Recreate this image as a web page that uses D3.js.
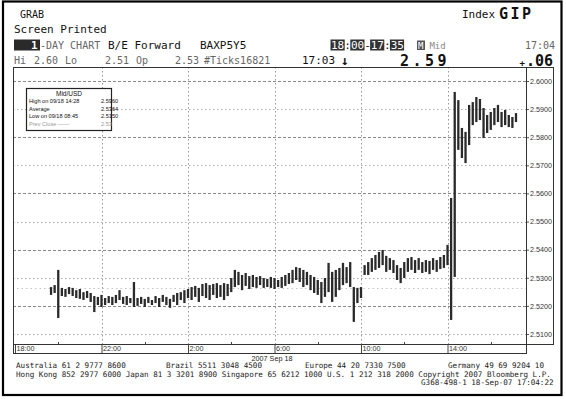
<!DOCTYPE html>
<html>
<head>
<meta charset="utf-8">
<script src="https://cdn.jsdelivr.net/npm/d3@7"></script>
<style>
  body { margin: 0; background: #fff; }
  svg { display: block; font-family: "DejaVu Sans Mono", monospace; }
</style>
</head>
<body>
<svg id="chart"></svg>
<script>
const W = 566, H = 399;

// 10-minute bars, first one at 19:40 on Sep 17
const barStart = new Date(2007, 8, 17, 19, 40);
const barMinutes = 10;

const highs = [
  2.5267, 2.5274, 2.5328, 2.5264, 2.5260, 2.5267, 2.5264, 2.5256, 2.5260, 2.5249,
  2.5253, 2.5246, 2.5235, 2.5232, 2.5239, 2.5228, 2.5235, 2.5232, 2.5239, 2.5256,
  2.5232, 2.5235, 2.5228, 2.5285, 2.5228, 2.5232, 2.5225, 2.5232, 2.5221, 2.5235,
  2.5228, 2.5239, 2.5232, 2.5225, 2.5239, 2.5246, 2.5249, 2.5256, 2.5260, 2.5267,
  2.5271, 2.5264, 2.5278, 2.5281, 2.5274, 2.5278, 2.5281, 2.5274, 2.5281, 2.5278,
  2.5299, 2.5328, 2.5321, 2.5310, 2.5317, 2.5306, 2.5310, 2.5303, 2.5306, 2.5299,
  2.5296, 2.5303, 2.5299, 2.5292, 2.5303, 2.5310, 2.5317, 2.5328, 2.5338, 2.5335,
  2.5328, 2.5321, 2.5310, 2.5303, 2.5292, 2.5285, 2.5299, 2.5353, 2.5321, 2.5328,
  2.5335, 2.5353, 2.5338, 2.5356, 2.5267, 2.5264, 2.5267, 2.5345, 2.5356, 2.5370,
  2.5381, 2.5392, 2.5399, 2.5378, 2.5370, 2.5363, 2.5345, 2.5335, 2.5356, 2.5370,
  2.5374, 2.5363, 2.5370, 2.5356, 2.5363, 2.5360, 2.5370, 2.5363, 2.5374, 2.5381,
  2.5417, 2.5584, 2.5961, 2.5932, 2.5833, 2.5819, 2.5915, 2.5925, 2.5943, 2.5936,
  2.5904, 2.5879, 2.5890, 2.5904, 2.5915, 2.5890, 2.5897, 2.5879, 2.5872, 2.5886
];
const lows = [
  2.5239, 2.5246, 2.5157, 2.5235, 2.5232, 2.5242, 2.5235, 2.5228, 2.5225, 2.5221,
  2.5228, 2.5214, 2.5178, 2.5203, 2.5196, 2.5203, 2.5210, 2.5203, 2.5210, 2.5221,
  2.5207, 2.5203, 2.5210, 2.5196, 2.5200, 2.5207, 2.5196, 2.5210, 2.5203, 2.5210,
  2.5196, 2.5214, 2.5203, 2.5193, 2.5214, 2.5203, 2.5221, 2.5210, 2.5228, 2.5221,
  2.5232, 2.5214, 2.5235, 2.5228, 2.5221, 2.5239, 2.5228, 2.5232, 2.5221, 2.5235,
  2.5249, 2.5267, 2.5274, 2.5256, 2.5271, 2.5260, 2.5267, 2.5264, 2.5274, 2.5264,
  2.5267, 2.5264, 2.5260, 2.5267, 2.5264, 2.5271, 2.5278, 2.5281, 2.5292, 2.5285,
  2.5267, 2.5274, 2.5256, 2.5246, 2.5239, 2.5210, 2.5232, 2.5249, 2.5214, 2.5232,
  2.5256, 2.5274, 2.5281, 2.5267, 2.5143, 2.5210, 2.5228, 2.5310, 2.5310, 2.5321,
  2.5328, 2.5335, 2.5345, 2.5321, 2.5328, 2.5317, 2.5292, 2.5281, 2.5299, 2.5321,
  2.5328, 2.5317, 2.5328, 2.5317, 2.5321, 2.5313, 2.5328, 2.5321, 2.5331, 2.5335,
  2.5345, 2.5150, 2.5303, 2.5755, 2.5726, 2.5708, 2.5772, 2.5843, 2.5854, 2.5861,
  2.5797, 2.5815, 2.5826, 2.5843, 2.5854, 2.5836, 2.5843, 2.5836, 2.5833, 2.5854
];

const prevClose = 2.5262;
const yTicks = [2.51, 2.52, 2.53, 2.54, 2.55, 2.56, 2.57, 2.58, 2.59, 2.60];
const xTickLabels = ["18:00", "22:00", "2:00", "6:00", "10:00", "14:00"];

const legendRows = [
  ["High on 09/18 14:28", "2.5960"],
  ["Average", "2.5364"],
  ["Low on 09/18 08:45", "2.5150"],
  ["Prev Close \u2014\u2014", "2.53"]
];

const footerLines = [
  [[16, "Australia 61 2 9777 8600"], [166, "Brazil 5511 3048 4500"], [305, "Europe 44 20 7330 7500"], [448, "Germany 49 69 9204 10"]],
  [[16, "Hong Kong 852 2977 6000 Japan 81 3 3201 8900 Singapore 65 6212 1000 U.S. 1 212 318 2000 Copyright 2007 Bloomberg L.P."]],
  [[421, "G368-498-1 18-Sep-07 17:04:22"]]
];

const svg = d3.select("#chart").attr("width", W).attr("height", H);

// page frame
svg.append("rect").attr("x", 3).attr("y", 1.5).attr("width", 558.5).attr("height", 393.5)
  .attr("fill", "none").attr("stroke", "#000").attr("stroke-width", 2.2);

// chart box
const plot = { l: 13, r: 526, t: 67, b: 344, lab: 553, axisB: 353 };

const tStart = new Date(2007, 8, 17, 18, 0);
const tEnd = new Date(2007, 8, 18, 17, 35);
const x = d3.scaleTime().domain([tStart, tEnd]).range([15, 525]);
const y = d3.scaleLinear().domain([2.51, 2.60]).range([334, 81]);

// gridlines
const grid = svg.append("g");
grid.selectAll("line.h").data(yTicks).enter().append("line")
  .attr("x1", plot.l).attr("x2", plot.r + 2)
  .attr("y1", d => Math.round(y(d)) + 0.5).attr("y2", d => Math.round(y(d)) + 0.5)
  .attr("stroke", (d, i) => i % 2 ? "#888" : "#aaa")
  .attr("stroke-width", 1)
  .attr("stroke-dasharray", (d, i) => i % 2 ? "3,2" : "1.5,2.5");

grid.append("line")
  .attr("x1", plot.l + 4).attr("x2", plot.r)
  .attr("y1", Math.round(y(prevClose)) + 0.5).attr("y2", Math.round(y(prevClose)) + 0.5)
  .attr("stroke", "#c4c4c4").attr("stroke-dasharray", "1.5,3");

const majorTimes = xTickLabels.map((d, i) => d3.timeHour.offset(tStart, 4 * i));
grid.selectAll("line.v").data(majorTimes.slice(1)).enter().append("line")
  .attr("x1", d => Math.round(x(d)) + 0.5).attr("x2", d => Math.round(x(d)) + 0.5)
  .attr("y1", plot.t).attr("y2", plot.b)
  .attr("stroke", "#999").attr("stroke-dasharray", "1.5,2.5");

// price bars
const bars = highs.map((h, i) => ({ t: d3.timeMinute.offset(barStart, i * barMinutes), hi: h, lo: lows[i] }));
svg.append("g").selectAll("line").data(bars).enter().append("line")
  .attr("x1", d => x(d.t)).attr("x2", d => x(d.t))
  .attr("y1", d => y(d.hi)).attr("y2", d => y(d.lo))
  .attr("stroke", "#2a2a2a").attr("stroke-width", 2.3);

// boxes
const frame = svg.append("g").attr("fill", "none").attr("stroke", "#333").attr("stroke-width", 1);
frame.append("rect").attr("x", plot.l + 0.5).attr("y", plot.t + 0.5)
  .attr("width", plot.lab - plot.l).attr("height", plot.b - plot.t);
frame.append("line").attr("x1", plot.r + 0.5).attr("x2", plot.r + 0.5)
  .attr("y1", plot.t).attr("y2", plot.axisB + 0.5);
frame.append("rect").attr("x", plot.l + 0.5).attr("y", plot.b + 0.5)
  .attr("width", plot.r - plot.l).attr("height", plot.axisB - plot.b);

// y axis (right)
const yAxis = svg.append("g").attr("transform", `translate(${plot.r + 1},0)`)
  .call(d3.axisRight(y).tickValues(yTicks).tickFormat(d3.format(".4f")).tickSize(2).tickPadding(1));
yAxis.select(".domain").remove();
yAxis.selectAll("line").attr("stroke", "#555");
yAxis.selectAll("text").attr("font-family", "Liberation Sans, Arial, sans-serif")
  .attr("font-size", 7.2).attr("fill", "#333");

// x axis (labels inside the row)
const xAxis = svg.append("g").attr("transform", `translate(0,${plot.b})`)
  .call(d3.axisBottom(x).tickValues(majorTimes).tickSize(plot.axisB - plot.b).tickFormat((d, i) => xTickLabels[i]));
xAxis.select(".domain").remove();
xAxis.selectAll("line").attr("stroke", "#444");
xAxis.selectAll("text").attr("font-family", "Liberation Sans, Arial, sans-serif")
  .attr("font-size", 7.2).attr("fill", "#333")
  .attr("text-anchor", "start").attr("dx", 1).attr("y", 1.5).attr("dy", "0.71em");

const minorTimes = majorTimes.map(d => d3.timeHour.offset(d, 2));
svg.append("g").selectAll("line").data(minorTimes).enter().append("line")
  .attr("x1", d => Math.round(x(d)) + 0.5).attr("x2", d => Math.round(x(d)) + 0.5)
  .attr("y1", plot.b - 2).attr("y2", plot.b + 0.5)
  .attr("stroke", "#444");

svg.append("text").attr("x", 272).attr("y", 361).attr("text-anchor", "middle")
  .attr("font-family", "Liberation Sans, Arial, sans-serif").attr("font-size", 7.2).attr("fill", "#222")
  .text("2007 Sep 18");

// legend box
const lg = svg.append("g").attr("font-family", "Liberation Sans, Arial, sans-serif").attr("font-size", 5.6);
lg.append("rect").attr("x", 26.5).attr("y", 88.5).attr("width", 85).attr("height", 42)
  .attr("fill", "#fff").attr("stroke", "#222").attr("stroke-width", 1.2);
lg.append("text").attr("x", 69).attr("y", 96).attr("text-anchor", "middle")
  .attr("font-size", 6.5).attr("fill", "#111").text("Mid/USD");
lg.selectAll("g.row").data(legendRows).enter().append("g")
  .attr("fill", (d, i) => i === 3 ? "#999" : "#111")
  .each(function (d, i) {
    const g = d3.select(this);
    const yy = 103 + i * 7.6;
    g.append("text").attr("x", 29).attr("y", yy).text(d[0]);
    g.append("text").attr("x", 101).attr("y", yy).text(d[1]);
  });

// header
const hd = svg.append("g").attr("font-size", 11).attr("fill", "#111");
hd.append("text").attr("x", 20).attr("y", 18).attr("font-size", 10).text("GRAB");
hd.append("text").attr("x", 14).attr("y", 33).text("Screen Printed");
hd.append("text").attr("x", 462).attr("y", 18).attr("font-size", 11).text("Index");
hd.append("text").attr("x", 499).attr("y", 19).attr("font-size", 15).attr("font-weight", "bold")
  .attr("letter-spacing", 2.5).text("GIP");

// row 3
const r3y = 48.5;
hd.append("rect").attr("x", 14).attr("y", 39.5).attr("width", 26).attr("height", 11).attr("fill", "#2a2a2a");
hd.append("text").attr("x", 31).attr("y", r3y).attr("fill", "#fff").attr("font-weight", "bold").text("1");
hd.append("text").attr("x", 40).attr("y", r3y).attr("fill", "#666").attr("font-size", 10).text("-DAY CHART");
hd.append("text").attr("x", 108).attr("y", r3y).text("B/E Forward");
hd.append("text").attr("x", 200).attr("y", r3y).text("BAXP5Y5");

// session range: digits in dark boxes, one text element
const rangeParts = [["18", true], [":", false], ["00", true], ["-", false], ["17", true], [":", false], ["35", true]];
const cw = 6.6, rx0 = 331;
let ci = 0;
rangeParts.forEach(([s, boxed]) => {
  if (boxed) hd.append("rect").attr("x", rx0 + ci * cw - 0.5).attr("y", 39.5).attr("width", s.length * cw + 1)
    .attr("height", 11).attr("fill", "#333");
  ci += s.length;
});
const rt = hd.append("text").attr("x", rx0).attr("y", r3y).attr("font-size", 11);
rangeParts.forEach(([s, boxed]) => rt.append("tspan").attr("fill", boxed ? "#fff" : "#111").text(s));

hd.append("rect").attr("x", 417).attr("y", 40.5).attr("width", 8).attr("height", 9.5).attr("fill", "#555");
const mt = hd.append("text").attr("x", 418).attr("y", r3y).attr("font-size", 9);
mt.append("tspan").attr("fill", "#fff").text("M");
mt.append("tspan").attr("fill", "#888").attr("dx", 6).text("Mid");
hd.append("text").attr("x", 555).attr("y", r3y).attr("text-anchor", "end").attr("fill", "#666").attr("font-size", 10).text("17:04");

// row 4
const r4 = hd.append("g").attr("fill", "#666").attr("font-size", 10);
[[14, "Hi"], [34, "2.60"], [65, "Lo"], [105, "2.51"], [136, "Op"], [175, "2.53"], [204, "#Ticks16821"]]
  .forEach(([xx, t]) => r4.append("text").attr("x", xx).attr("y", 64).text(t));
hd.append("text").attr("x", 302).attr("y", 64).attr("font-size", 11).text("17:03");
hd.append("text").attr("x", 341).attr("y", 65).attr("font-size", 13).attr("font-weight", "bold").text("\u2193");
hd.append("text").attr("x", 400).attr("y", 65.5).attr("font-size", 15).attr("font-weight", "bold")
  .attr("letter-spacing", 3.5).text("2.59");
const chg = hd.append("text").attr("x", 553).attr("y", 65.5).attr("text-anchor", "end").attr("font-weight", "bold");
chg.append("tspan").attr("font-size", 9).text("+");
chg.append("tspan").attr("font-size", 15).attr("dx", 1).text(".06");

// footer
const ft = svg.append("g").attr("font-size", 7.6).attr("fill", "#222");
footerLines.forEach((line, li) => {
  line.forEach(([xx, t]) => {
    ft.append("text").attr("x", xx).attr("y", 368 + li * 8.5).text(t);
  });
});
</script>
</body>
</html>
